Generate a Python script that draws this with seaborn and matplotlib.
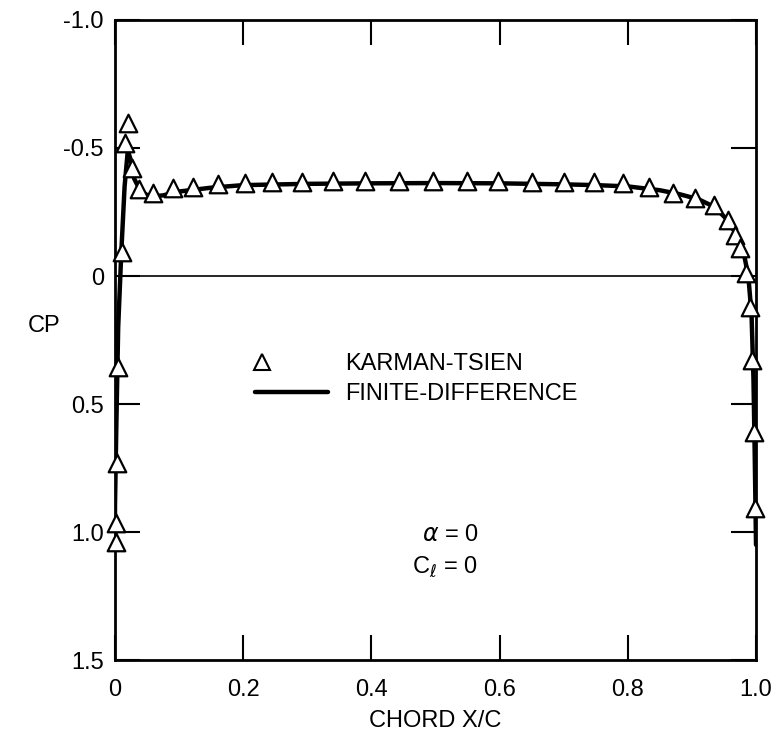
import matplotlib
matplotlib.use("Agg")
import matplotlib.pyplot as plt
import pandas as pd
import seaborn as sns

# Karman-Tsien points (triangles)
kt_x = [0.001, 0.001, 0.003, 0.005, 0.011, 0.016, 0.020, 0.027, 0.037, 0.059,
        0.090, 0.122, 0.160, 0.203, 0.245, 0.291, 0.340, 0.390, 0.443, 0.496,
        0.549, 0.598, 0.651, 0.700, 0.747, 0.793, 0.833, 0.871, 0.905, 0.935,
        0.956, 0.967, 0.975, 0.984, 0.991, 0.994, 0.997, 0.998]
kt_cp = [1.04, 0.965, 0.73, 0.355, -0.094, -0.52, -0.598, -0.42, -0.34, -0.325,
         -0.344, -0.348, -0.36, -0.363, -0.366, -0.368, -0.37, -0.372, -0.372, -0.372,
         -0.372, -0.37, -0.368, -0.367, -0.366, -0.362, -0.349, -0.325, -0.306, -0.276,
         -0.219, -0.16, -0.109, -0.012, 0.12, 0.328, 0.61, 0.906]

# finite-difference solution (solid line)
fd_x = [0.0, 0.0, 0.002, 0.005, 0.010, 0.015, 0.020, 0.025, 0.030, 0.040,
        0.055, 0.075, 0.10, 0.15, 0.20, 0.30, 0.40, 0.50, 0.60, 0.70,
        0.75, 0.80, 0.85, 0.88, 0.91, 0.935, 0.955, 0.97, 0.98, 0.988,
        0.993, 0.996, 0.998, 1.0]
fd_cp = [1.05, 0.9, 0.6, 0.2, -0.1, -0.35, -0.49, -0.45, -0.38, -0.33,
         -0.31, -0.315, -0.33, -0.345, -0.355, -0.36, -0.362, -0.363, -0.362, -0.358,
         -0.355, -0.35, -0.335, -0.32, -0.30, -0.27, -0.22, -0.16, -0.10, 0.0,
         0.15, 0.4, 0.7, 1.05]

x_ticks = [0, 0.2, 0.4, 0.6, 0.8, 1.0]
x_labels = ["0", "0.2", "0.4", "0.6", "0.8", "1.0"]
y_ticks = [-1.0, -0.5, 0, 0.5, 1.0, 1.5]
y_labels = ["-1.0", "-0.5", "0", "0.5", "1.0", "1.5"]

sns.set_style("ticks")
plt.rcParams["font.family"] = ["Liberation Sans", "DejaVu Sans"]
plt.rcParams["text.color"] = "black"
plt.rcParams["axes.labelcolor"] = "black"

FS = 17

kt = pd.DataFrame({"x": kt_x, "cp": kt_cp})
fd = pd.DataFrame({"x": fd_x, "cp": fd_cp})

fig = plt.figure(figsize=(7.79, 7.35), dpi=100)
ax = fig.add_axes([0.1476, 0.102, 0.8229, 0.8708])

ax.plot([0, 0.99], [0, 0], color="black", lw=1.2, zorder=1)
sns.lineplot(data=fd, x="x", y="cp", sort=False, estimator=None, color="black",
             lw=3.2, ax=ax, zorder=2)
sns.scatterplot(data=kt, x="x", y="cp", marker="^", s=160, facecolor="white",
                edgecolor="black", linewidth=1.6, ax=ax, zorder=3, clip_on=False)

ax.set_xlim(0, 1.0)
ax.set_ylim(1.5, -1.0)
ax.set_xticks(x_ticks, x_labels)
ax.set_yticks(y_ticks, y_labels)
ax.tick_params(direction="in", length=18, width=1.5, top=True, right=True,
               labelsize=FS, pad=8, colors="black")
ax.tick_params(axis="x", pad=14)
for s in ax.spines.values():
    s.set_linewidth(2)
    s.set_color("black")

ax.set_xlabel("CHORD X/C", fontsize=FS, labelpad=6)
ax.set_ylabel("CP", fontsize=FS, rotation=0)
ax.yaxis.set_label_coords(-0.11, 0.505)

# legend drawn by hand, as in the original
ax.plot([0.229], [0.336], marker="^", ms=11, mfc="white", mec="black", mew=1.5,
        linestyle="none")
ax.text(0.359, 0.345, "KARMAN-TSIEN", fontsize=FS, va="center")
ax.plot([0.218, 0.333], [0.453, 0.453], color="black", lw=3.2)
ax.text(0.359, 0.46, "FINITE-DIFFERENCE", fontsize=FS, va="center")

ax.text(0.523, 1.01, r"$\alpha$ = 0", fontsize=FS, ha="center", va="center")
ax.text(0.515, 1.137, r"C$_\ell$ = 0", fontsize=FS, ha="center", va="center")

fig.savefig("out.png", dpi=100)
